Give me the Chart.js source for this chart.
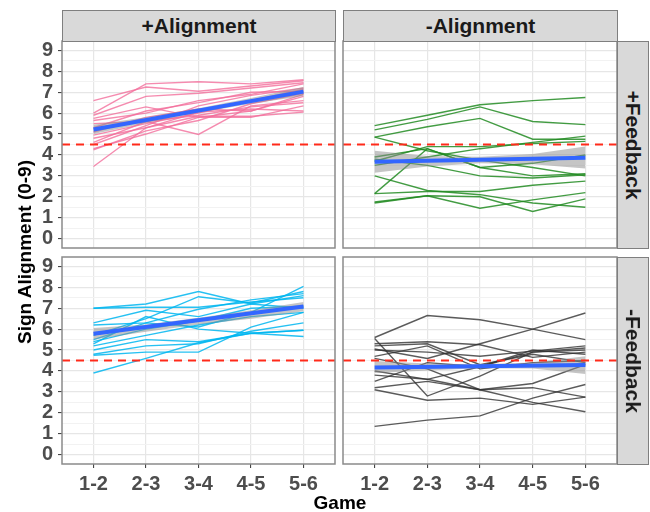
<!DOCTYPE html>
<html>
<head>
<meta charset="utf-8">
<script src="https://cdn.jsdelivr.net/npm/chart.js"></script>
<style>
  body { margin: 0; background: #fff; }
  #wrap { position: relative; width: 650px; height: 512px; font-family: "Liberation Sans", Arial, sans-serif; }
  canvas { position: absolute; left: 0; top: 0; }
  .strip { position: absolute; background: #d9d9d9; border: 1px solid #7f7f7f; box-sizing: border-box;
           display: flex; align-items: center; justify-content: center;
           font-weight: bold; font-size: 21px; color: #1a1a1a; }
  .strip.side span { transform: rotate(90deg); white-space: nowrap; }
  .title { position: absolute; font-weight: bold; font-size: 19px; color: #000; white-space: nowrap; }
</style>
</head>
<body>
<div id="wrap">
  <canvas id="pp" width="650" height="512"></canvas>
  <canvas id="np" width="650" height="512"></canvas>
  <canvas id="pn" width="650" height="512"></canvas>
  <canvas id="nn" width="650" height="512"></canvas>

  <div class="strip" style="left:62px;top:10px;width:274px;height:32px;">+Alignment</div>
  <div class="strip" style="left:343px;top:10px;width:275px;height:32px;">-Alignment</div>
  <div class="strip side" style="left:617px;top:41px;width:32px;height:208px;"><span>+Feedback</span></div>
  <div class="strip side" style="left:617px;top:257px;width:32px;height:208px;"><span>-Feedback</span></div>

  <div class="title" style="left:25px;top:252px;transform:translate(-50%,-50%) rotate(-90deg);">Sign Alignment (0-9)</div>
  <div class="title" style="left:340px;top:503px;transform:translate(-50%,-50%);">Game</div>
</div>

<script>
const games = ['1-2', '2-3', '3-4', '4-5', '5-6'];
const yMajor = [0, 1, 2, 3, 4, 5, 6, 7, 8, 9];
const yMinor = [0.5, 1.5, 2.5, 3.5, 4.5, 5.5, 6.5, 7.5, 8.5];
const threshold = 4.5;

// +Alignment / +Feedback
const pinkLines = [
  [6.6, 7.25, 7.05, 7.3, 7.55],
  [6.0, 7.4, 7.5, 7.4, 7.6],
  [5.75, 6.3, 5.8, 5.8, 6.35],
  [5.65, 6.0, 6.6, 6.9, 7.4],
  [5.5, 5.6, 4.98, 6.35, 6.6],
  [5.3, 6.1, 6.5, 7.0, 7.05],
  [5.1, 5.8, 6.2, 6.1, 6.9],
  [4.95, 5.5, 6.0, 6.6, 7.15],
  [4.8, 5.3, 5.85, 5.85, 6.05],
  [4.6, 5.6, 5.9, 6.3, 6.5],
  [4.5, 5.4, 6.35, 6.85, 7.2],
  [4.3, 5.0, 5.8, 6.1, 6.8],
  [3.45, 5.3, 6.05, 6.2, 6.1],
  [5.9, 6.8, 6.95, 7.2, 7.45],
  [4.25, 5.15, 5.65, 6.45, 6.95]
];
const pinkFit = [5.22, 7.03];
const pinkLo = [5.0, 5.53, 6.02, 6.45, 6.82];
const pinkHi = [5.45, 5.8, 6.23, 6.72, 7.25];

// -Alignment / +Feedback
const greenLines = [
  [5.4, 5.9, 6.4, 6.6, 6.75],
  [5.2, 5.7, 6.3, 5.6, 5.45],
  [4.85, 5.35, 5.75, 4.75, 4.75],
  [4.85, 4.2, 3.75, 3.4, 3.0],
  [3.7, 4.4, 4.4, 4.55, 4.65],
  [3.9, 4.3, 3.4, 3.0, 3.1],
  [3.5, 3.9, 4.3, 4.6, 4.9],
  [3.0, 2.3, 2.1, 1.7, 1.5],
  [2.15, 4.3, 3.4, 3.6, 4.0],
  [2.15, 2.25, 2.25, 2.55, 2.75],
  [1.75, 2.05, 1.45, 1.85, 2.2],
  [1.7, 2.05, 2.0, 1.3, 1.9],
  [3.8, 3.5, 3.0, 2.9, 3.05]
];
const greenFit = [3.68, 3.87];
const greenLo = [3.15, 3.45, 3.6, 3.55, 3.35];
const greenHi = [4.2, 3.95, 3.92, 4.05, 4.4];

// +Alignment / -Feedback
const cyanLines = [
  [7.0, 7.05, 7.05, 7.3, 7.5],
  [7.0, 7.2, 7.8, 7.2, 7.0],
  [6.3, 6.9, 6.6, 7.2, 7.6],
  [5.7, 6.5, 7.55, 7.25, 7.8],
  [5.5, 6.3, 6.1, 6.8, 8.05],
  [5.4, 6.0, 6.4, 7.0, 7.1],
  [5.3, 6.6, 6.0, 5.8, 5.95],
  [5.2, 5.7, 6.2, 6.6, 6.8],
  [5.0, 5.5, 5.4, 5.8, 5.65],
  [4.8, 5.2, 5.3, 5.9, 6.3],
  [4.75, 4.9, 4.9, 6.1, 6.8],
  [3.9, 4.6, 5.35, 5.8, 5.95],
  [6.2, 6.3, 6.95, 7.4, 7.7]
];
const cyanFit = [5.78, 7.08];
const cyanLo = [5.5, 5.88, 6.22, 6.5, 6.85];
const cyanHi = [6.05, 6.22, 6.55, 6.9, 7.3];

// -Alignment / -Feedback
const grayLines = [
  [5.6, 6.65, 6.45, 6.0, 5.5],
  [5.55, 2.8, 3.75, 4.9, 5.1],
  [5.3, 5.4, 5.25, 4.65, 4.9],
  [5.05, 4.6, 5.3, 6.0, 6.77],
  [5.0, 4.9, 4.7, 4.95, 5.2],
  [4.7, 5.2, 4.1, 4.4, 4.5],
  [3.8, 3.6, 3.1, 3.4, 4.3],
  [3.2, 3.5, 3.1, 3.2, 2.75],
  [3.1, 2.6, 2.7, 2.4, 2.75],
  [1.35, 1.65, 1.85, 2.7, 3.35],
  [4.0, 3.6, 4.2, 5.0, 4.8],
  [4.6, 4.1, 3.1, 2.5, 2.05],
  [5.2, 5.3, 4.3, 4.8, 4.4],
  [3.5, 4.4, 4.2, 4.9, 5.0]
];
const grayFit = [4.17, 4.28];
const grayLo = [3.9, 4.02, 4.13, 4.12, 3.85];
const grayHi = [4.48, 4.36, 4.32, 4.4, 4.7];

const FONT = '"Liberation Sans", Arial, sans-serif';
const Y_W = 40, X_H = 40;

const panelDeco = {
  id: 'panelDeco',
  afterDatasetsDraw(chart) {
    const { ctx, chartArea: a, scales } = chart;
    const y = scales.y.getPixelForValue(threshold);
    ctx.save();
    ctx.beginPath();
    ctx.rect(a.left, a.top, a.right - a.left, a.bottom - a.top);
    ctx.clip();
    ctx.strokeStyle = '#ff2a1a';
    ctx.lineWidth = 2;
    ctx.setLineDash([8, 6]);
    ctx.beginPath();
    ctx.moveTo(a.left, y);
    ctx.lineTo(a.right, y);
    ctx.stroke();
    ctx.restore();
  },
  afterDraw(chart) {
    const { ctx, chartArea: a } = chart;
    ctx.save();
    ctx.strokeStyle = '#8a8a8a';
    ctx.lineWidth = 1.5;
    ctx.strokeRect(a.left, a.top, a.right - a.left, a.bottom - a.top);
    ctx.restore();
  }
};

function pts(vals) {
  return vals.map((v, i) => ({ x: i + 1, y: v }));
}

function makePanel(id, lines, color, fit, lo, hi, area, showY, showX) {
  const datasets = lines.map(v => ({
    data: pts(v), borderColor: color, borderWidth: 1.4, pointRadius: 0, order: 3
  }));
  datasets.push({ data: pts(lo), borderWidth: 0, pointRadius: 0, order: 2, fill: false });
  const loIdx = datasets.length - 1;
  datasets.push({ data: pts(hi), borderWidth: 0, pointRadius: 0, order: 2,
                  fill: loIdx, backgroundColor: 'rgba(140,140,140,0.5)' });
  datasets.push({ data: [{ x: 1, y: fit[0] }, { x: 5, y: fit[1] }],
                  borderColor: '#3366ff', borderWidth: 4, pointRadius: 0, order: 1 });

  new Chart(document.getElementById(id), {
    type: 'line',
    data: { datasets },
    options: {
      responsive: false,
      animation: false,
      layout: { padding: {
        left: area.left - (showY ? Y_W : 0),
        top: area.top,
        right: 650 - area.right,
        bottom: 512 - area.bottom - (showX ? X_H : 0)
      } },
      plugins: { legend: { display: false }, tooltip: { enabled: false } },
      scales: {
        x: {
          type: 'linear', min: 0.4, max: 5.6,
          afterBuildTicks: s => { s.ticks = games.map((g, i) => ({ value: i + 1 })); },
          afterFit: s => { s.height = showX ? X_H : 0; },
          border: { display: false },
          grid: { color: '#e6e6e6', lineWidth: 1.2, drawTicks: showX, tickLength: 4, tickColor: '#333', tickWidth: 1 },
          ticks: { display: showX, autoSkip: false, maxRotation: 0, padding: 4,
                   callback: v => games[v - 1], color: '#4d4d4d',
                   font: { family: FONT, size: 20, weight: 'bold' } }
        },
        y: {
          min: -0.45, max: 9.45,
          afterBuildTicks: s => { s.ticks = yMajor.concat(yMinor).sort((p, q) => p - q).map(v => ({ value: v })); },
          afterFit: s => { s.width = showY ? Y_W : 0; },
          border: { display: false },
          grid: {
            color: c => Number.isInteger(c.tick.value) ? '#e6e6e6' : '#f2f2f2',
            lineWidth: c => Number.isInteger(c.tick.value) ? 1.2 : 1,
            drawTicks: showY, tickLength: 4, tickWidth: 1,
            tickColor: c => Number.isInteger(c.tick.value) ? '#333' : 'rgba(0,0,0,0)'
          },
          ticks: { display: showY, autoSkip: false, padding: 5,
                   callback: v => Number.isInteger(v) ? String(v) : '', color: '#4d4d4d',
                   font: { family: FONT, size: 20, weight: 'bold' } }
        }
      }
    },
    plugins: [panelDeco]
  });
}

makePanel('pp', pinkLines, 'rgba(242,110,155,0.8)', pinkFit, pinkLo, pinkHi,
          { left: 62, top: 41, right: 335, bottom: 248 }, true, false);
makePanel('np', greenLines, 'rgba(34,139,34,0.85)', greenFit, greenLo, greenHi,
          { left: 343, top: 41, right: 617, bottom: 248 }, false, false);
makePanel('pn', cyanLines, 'rgba(0,182,240,0.85)', cyanFit, cyanLo, cyanHi,
          { left: 62, top: 257, right: 335, bottom: 464 }, true, true);
makePanel('nn', grayLines, 'rgba(50,50,50,0.8)', grayFit, grayLo, grayHi,
          { left: 343, top: 257, right: 617, bottom: 464 }, false, true);
</script>
</body>
</html>
